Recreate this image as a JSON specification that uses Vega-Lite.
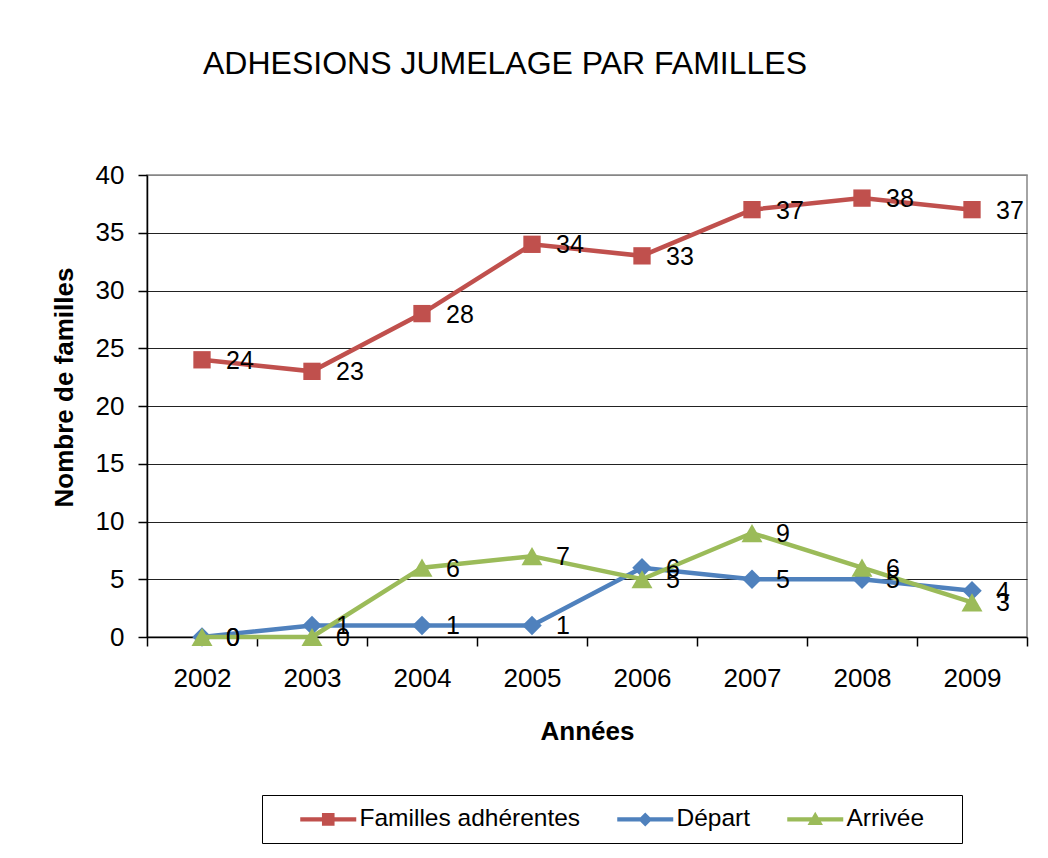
{
  "$schema": "https://vega.github.io/schema/vega-lite/v6.json",
  "width": 880,
  "height": 462,
  "autosize": {"type": "none"},
  "padding": {"left": 147, "top": 175, "right": 21, "bottom": 221},
  "background": "white",
  "config": {
    "font": "Liberation Sans",
    "view": {"stroke": "#868686", "strokeWidth": 1.5},
    "axis": {"labelColor": "#000", "titleColor": "#000", "labelFont": "Liberation Sans", "titleFont": "Liberation Sans"}
  },
  "title": {
    "text": "ADHESIONS JUMELAGE PAR FAMILLES",
    "anchor": "start",
    "frame": "group",
    "dx": 56,
    "offset": 56,
    "fontSize": 32,
    "fontWeight": "normal",
    "color": "#000",
    "baseline": "alphabetic"
  },
  "data": {
    "values": [
      {"year": "2002", "series": "Familles adhérentes", "value": 24},
      {"year": "2003", "series": "Familles adhérentes", "value": 23},
      {"year": "2004", "series": "Familles adhérentes", "value": 28},
      {"year": "2005", "series": "Familles adhérentes", "value": 34},
      {"year": "2006", "series": "Familles adhérentes", "value": 33},
      {"year": "2007", "series": "Familles adhérentes", "value": 37},
      {"year": "2008", "series": "Familles adhérentes", "value": 38},
      {"year": "2009", "series": "Familles adhérentes", "value": 37},
      {"year": "2002", "series": "Départ", "value": 0},
      {"year": "2003", "series": "Départ", "value": 1},
      {"year": "2004", "series": "Départ", "value": 1},
      {"year": "2005", "series": "Départ", "value": 1},
      {"year": "2006", "series": "Départ", "value": 6},
      {"year": "2007", "series": "Départ", "value": 5},
      {"year": "2008", "series": "Départ", "value": 5},
      {"year": "2009", "series": "Départ", "value": 4},
      {"year": "2002", "series": "Arrivée", "value": 0},
      {"year": "2003", "series": "Arrivée", "value": 0},
      {"year": "2004", "series": "Arrivée", "value": 6},
      {"year": "2005", "series": "Arrivée", "value": 7},
      {"year": "2006", "series": "Arrivée", "value": 5},
      {"year": "2007", "series": "Arrivée", "value": 9},
      {"year": "2008", "series": "Arrivée", "value": 6},
      {"year": "2009", "series": "Arrivée", "value": 3}
    ]
  },
  "encoding": {
    "x": {
      "field": "year",
      "type": "ordinal",
      "scale": {"type": "band", "paddingInner": 0, "paddingOuter": 0},
      "axis": {
        "title": "Années",
        "labelAngle": 0,
        "tickBand": "extent",
        "grid": false,
        "domainColor": "#000",
        "domainWidth": 1.5,
        "tickColor": "#000",
        "tickWidth": 1.5,
        "tickSize": 9,
        "labelPadding": 19,
        "labelFontSize": 26,
        "titleFontSize": 26,
        "titleFontWeight": "bold",
        "titleY": 102,
        "titleBaseline": "alphabetic"
      }
    },
    "y": {
      "field": "value",
      "type": "quantitative",
      "scale": {"domain": [0, 40], "nice": false},
      "axis": {
        "title": "Nombre de familles",
        "values": [0, 5, 10, 15, 20, 25, 30, 35, 40],
        "grid": true,
        "gridColor": {"condition": {"test": "datum.value === 40 || datum.value === 0", "value": "#868686"}, "value": "#222222"},
        "gridWidth": 1.2,
        "domainColor": "#000",
        "domainWidth": 1.5,
        "tickColor": "#000",
        "tickWidth": 1.5,
        "tickSize": 9,
        "labelPadding": 14,
        "labelFontSize": 26,
        "titleFontSize": 26,
        "titleFontWeight": "bold",
        "titleAngle": -90,
        "titleX": -75,
        "titleY": 212,
        "titleBaseline": "alphabetic",
        "titleAlign": "center"
      }
    }
  },
  "layer": [
    {
      "transform": [{"filter": "datum.series === 'Familles adhérentes'"}],
      "mark": {"type": "line", "strokeWidth": 4.5, "color": "#C0504D", "opacity": 1,
               "point": {"shape": "square", "filled": true, "size": 300, "color": "#C0504D", "opacity": 1}}
    },
    {
      "transform": [{"filter": "datum.series === 'Départ'"}],
      "mark": {"type": "line", "strokeWidth": 4.5, "color": "#4F81BD", "opacity": 1,
               "point": {"shape": "diamond", "filled": true, "size": 380, "color": "#4F81BD", "opacity": 1}}
    },
    {
      "transform": [{"filter": "datum.series === 'Arrivée'"}],
      "mark": {"type": "line", "strokeWidth": 4.5, "color": "#9BBB59", "opacity": 1,
               "point": {"shape": "triangle-up", "filled": true, "size": 440, "color": "#9BBB59", "opacity": 1}}
    },
    {
      "mark": {"type": "text", "align": "left", "baseline": "middle", "dx": 24, "dy": 1, "fontSize": 25, "color": "#000"},
      "encoding": {"text": {"field": "value", "type": "quantitative"}}
    },
    {
      "mark": {"type": "point", "filled": true, "opacity": 0, "size": 0},
      "encoding": {
        "color": {
          "field": "series",
          "type": "nominal",
          "scale": {"domain": ["Familles adhérentes", "Départ", "Arrivée"], "range": ["#C0504D", "#4F81BD", "#9BBB59"]},
          "legend": {
            "title": " ",
            "titleOrient": "right",
            "titlePadding": 26,
            "titleFontSize": 24,
            "orient": "none",
            "legendX": 115,
            "legendY": 620,
            "direction": "horizontal",
            "strokeColor": "#000",
            "fillColor": "white",
            "padding": 12,
            "symbolSize": 196,
            "symbolOffset": 42,
            "labelOffset": 19,
            "labelFontSize": 24.5,
            "labelColor": "#000",
            "labelLimit": 400,
            "columnPadding": 10,
            "symbolStrokeWidth": 0,
            "symbolOpacity": 1
          }
        },
        "shape": {
          "field": "series",
          "type": "nominal",
          "scale": {
            "domain": ["Familles adhérentes", "Départ", "Arrivée"],
            "range": [
              "M-4,-0.3H4V0.3H-4Z M-0.9,-0.9H0.9V0.9H-0.9Z",
              "M-4,-0.3H4V0.3H-4Z M-1,0L0,-1L1,0L0,1Z",
              "M-4,-0.3H4V0.3H-4Z M0,-1.1L1.1,0.8L-1.1,0.8Z"
            ]
          },
          "legend": {
            "title": " ",
            "titleOrient": "right",
            "titlePadding": 26,
            "titleFontSize": 24,
            "orient": "none",
            "legendX": 115,
            "legendY": 620,
            "direction": "horizontal",
            "strokeColor": "#000",
            "fillColor": "white",
            "padding": 12,
            "symbolSize": 196,
            "symbolOffset": 42,
            "labelOffset": 19,
            "labelFontSize": 24.5,
            "labelColor": "#000",
            "labelLimit": 400,
            "columnPadding": 10,
            "symbolStrokeWidth": 0,
            "symbolOpacity": 1
          }
        }
      }
    }
  ]
}
